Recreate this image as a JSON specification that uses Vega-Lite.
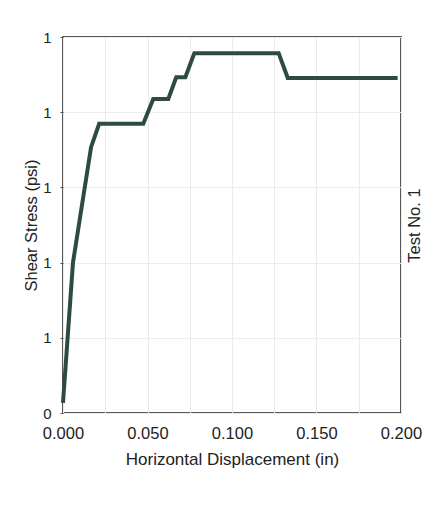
{
  "$schema": "https://vega.github.io/schema/vega-lite/v6.json",
  "width": 338,
  "height": 376,
  "autosize": {"type": "none"},
  "padding": {"left": 63, "top": 37, "right": 45, "bottom": 116},
  "background": "white",
  "data": {"values": [
    {"x": 0.0, "y": 0.027},
    {"x": 0.0059, "y": 0.40},
    {"x": 0.0166, "y": 0.707},
    {"x": 0.0214, "y": 0.769},
    {"x": 0.0475, "y": 0.769},
    {"x": 0.0534, "y": 0.835},
    {"x": 0.0623, "y": 0.835},
    {"x": 0.067, "y": 0.893},
    {"x": 0.0724, "y": 0.893},
    {"x": 0.0777, "y": 0.957},
    {"x": 0.1276, "y": 0.957},
    {"x": 0.133, "y": 0.891},
    {"x": 0.198, "y": 0.891}
  ]},
  "encoding": {
    "x": {"field": "x", "type": "quantitative", "scale": {"domain": [0, 0.2], "nice": false},
      "axis": {"title": "Horizontal Displacement (in)", "values": [0, 0.025, 0.05, 0.075, 0.1, 0.125, 0.15, 0.175, 0.2],
        "labelExpr": "(round(datum.value*1000) % 50 == 0) ? format(datum.value, '.3f') : ''",
        "ticks": false, "domain": false, "labelPadding": 12, "labelFontSize": 16.5, "titleFontSize": 17, "titleFontWeight": "normal", "titlePadding": 10,
        "gridColor": "#ebebeb", "labelColor": "#222", "titleColor": "#222", "labelFont": "Liberation Sans", "titleFont": "Liberation Sans", "labelFlush": false}}
  },
  "layer": [
    {
      "mark": {"type": "line", "color": "#2e4b40", "strokeWidth": 4, "clip": false},
      "encoding": {
        "y": {"field": "y", "type": "quantitative", "scale": {"domain": [0, 1], "nice": false},
          "axis": {"title": "Shear Stress (psi)", "values": [0, 0.2, 0.4, 0.6, 0.8, 1.0],
            "labelExpr": "datum.value == 0 ? '0' : '1'",
            "ticks": true, "tickSize": 3, "tickColor": "#555", "domain": false, "labelPadding": 9, "labelFontSize": 15, "titleFontSize": 16.5, "titleFontWeight": "normal", "titlePadding": 3,
            "gridColor": "#ededed", "labelColor": "#222", "titleColor": "#222", "labelFont": "Liberation Sans", "titleFont": "Liberation Sans", "labelFlush": false}}
      }
    },
    {
      "mark": {"type": "line", "opacity": 0, "clip": false},
      "encoding": {
        "y": {"field": "y", "type": "quantitative", "scale": {"domain": [0, 1], "nice": false},
          "axis": {"orient": "right", "title": "Test No. 1", "titleAngle": 270, "labels": false, "ticks": false, "domain": false, "grid": false,
            "titleFontSize": 16.5, "titleFontWeight": "normal", "titlePadding": 21, "titleColor": "#222", "titleFont": "Liberation Sans"}}
      }
    }
  ],
  "resolve": {"axis": {"y": "independent"}},
  "config": {"view": {"stroke": "#222", "strokeWidth": 1.5}}
}
